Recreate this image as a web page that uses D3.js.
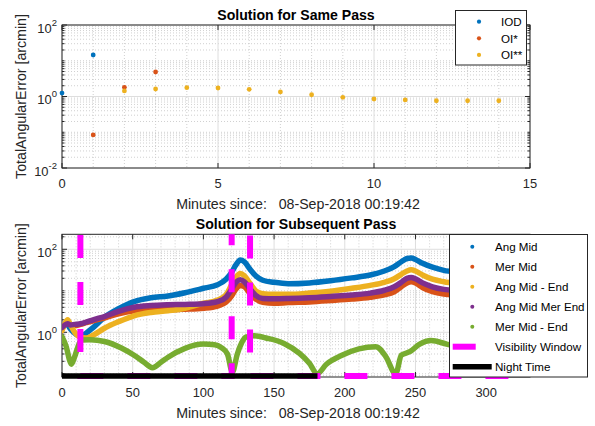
<!DOCTYPE html>
<html>
<head>
<meta charset="utf-8">
<script src="https://cdn.jsdelivr.net/npm/d3@7/dist/d3.min.js"></script>
<style>
  body { margin: 0; background: #fff; }
  svg { font-family: "Liberation Sans", Arial, sans-serif; }
</style>
</head>
<body>
<script>
// ---- top panel: solution for same pass ----
const iodMinutes = [0, 1];
const iodError = [1.25, 14.5];
const oi1Minutes = [1, 2, 3];
const oi1Error = [0.084, 1.81, 4.85];
const oi2Minutes = [2, 3, 4, 5, 6, 7, 8, 9, 10, 11, 12, 13, 14];
const oi2Error = [1.43, 1.62, 1.76, 1.73, 1.59, 1.34, 1.12, 0.95, 0.85, 0.8, 0.76, 0.76, 0.76];
const topXTicks = [0, 5, 10, 15];
const topYTicks = [0.01, 1, 100];

// ---- bottom panel: solution for subsequent pass ----
const minutes = [0, 2, 4, 6, 9, 13, 17, 22, 30, 40, 51, 63, 75, 87, 100, 110, 116, 120, 123, 126,
  129, 133, 137, 142, 150, 160, 175, 190, 205, 218, 228, 235, 240, 244, 247, 250, 255, 262, 270, 280,
  295, 315, 331];
const angMid = [1.4, 1.55, 1.5, 1.2, 0.95, 0.8, 0.95, 1.3, 2.3, 3.7, 5.5, 6.8, 7.5, 9.0, 11.5, 14, 19, 28, 42, 55,
  50, 33, 23, 18, 16, 14.8, 15.5, 17.5, 20.5, 24, 30, 38, 50, 60, 62, 57, 46, 37, 31, 28,
  26, 24.5, 23.5];
const merMid = [1.2, 1.55, 1.8, 1.5, 1.45, 1.55, 1.7, 1.9, 2.2, 2.8, 3.3, 3.5, 3.5, 3.6, 3.8, 4.3, 5.3, 7.5, 11, 13.5,
  12.5, 8.5, 6.3, 5.3, 5.0, 5.2, 5.4, 5.8, 6.3, 7.0, 8.0, 9.5, 12.5, 15.5, 16.5, 15.5, 12, 9.5, 8.3, 7.8,
  7.3, 7, 6.8];
const angMidEnd = [1.1, 1.6, 2.0, 1.5, 1.0, 0.76, 0.73, 0.85, 1.25, 1.8, 2.5, 3.0, 3.3, 3.8, 5.0, 6.0, 8, 14, 21, 26,
  23, 15, 10, 8.5, 8.2, 8.2, 8.8, 9.8, 11.5, 13.5, 16, 19.5, 25, 30, 32, 30, 24, 19, 16.5, 15,
  14, 13.5, 13];
const angMidMerEnd = [1.3, 1.5, 1.6, 1.5, 1.55, 1.6, 1.75, 2.0, 2.4, 3.2, 4.0, 4.4, 4.6, 4.7, 4.9, 5.5, 7, 11, 16, 18.5,
  16.5, 11, 7.8, 6.5, 6.4, 6.5, 6.8, 7.3, 7.9, 8.8, 10.3, 12.5, 16, 20, 21, 19.5, 15.5, 12.5, 10.8, 10,
  9.4, 9, 8.7];
const greenMinutes = [0, 3, 5.4, 6.6, 9, 11.3, 13.7, 20, 30, 42, 51, 58, 64, 70, 75, 87, 100, 108, 113, 117,
  120.5, 124, 127, 130, 136, 145, 157, 168, 175, 180.5, 187, 198, 210, 222, 229, 236, 240, 246, 253, 261,
  272, 285, 300, 315, 331];
const merMidEnd = [0.78, 0.45, 0.21, 0.17, 0.26, 0.45, 0.65, 0.66, 0.6, 0.42, 0.28, 0.19, 0.14, 0.19, 0.25, 0.41, 0.52, 0.5, 0.42, 0.3,
  0.11, 0.3, 0.55, 0.76, 0.82, 0.72, 0.54, 0.31, 0.18, 0.1, 0.17, 0.28, 0.4, 0.45, 0.26, 0.1, 0.28, 0.34, 0.52, 0.63,
  0.52, 0.4, 0.3, 0.25, 0.2];
const visMinutes = [0, 13, 13, 120, 120, 133, 133, 331];
const visLevel = [1340, 1340, 0.0885, 0.0885, 1340, 1340, 0.0885, 0.0885];
const nightMinutes = [0, 180.7];
const nightLevel = [0.0885, 0.0885];
const bottomXTicks = [0, 50, 100, 150, 200, 250, 300];
const bottomYTicks = [1, 100];

const seriesNames = ["Ang Mid", "Mer Mid", "Ang Mid - End", "Ang Mid Mer End", "Mer Mid - End"];
const topNames = ["IOD", "OI*", "OI**"];
const colors = ["#0072BD", "#D95319", "#EDB120", "#7E2F8E", "#77AC30"];
const axisColor = "#262626";
const xLabelText = "Minutes since:   08-Sep-2018 00:19:42";
const yLabelText = "TotalAngularError [arcmin]";

const w = 595, h = 426;
const svg = d3.select("body").append("svg").attr("width", w).attr("height", h);

const x1 = d3.scaleLinear().domain([0, 15]).range([62, 530]);
const y1 = d3.scaleLog().domain([0.01, 100]).range([168, 25]);
const x2 = d3.scaleLinear().domain([0, 331]).range([62, 530]);
const y2 = d3.scaleLog().domain([0.0837, 229.8]).range([377, 234.3]);

function logMinor(y) {
  let [lo, hi] = y.domain();
  let out = [];
  for (let e = Math.floor(Math.log10(lo)); e <= Math.ceil(Math.log10(hi)); e++) {
    for (let k = 1; k < 10; k++) {
      let v = k * Math.pow(10, e);
      if (v >= lo && v <= hi) out.push(v);
    }
  }
  return out;
}

function frame(x, y, xTicks, xMinorStep, yTicks, title) {
  let g = svg.append("g");
  let [l, r] = x.range();
  let [b, t] = y.range();
  let yMinor = logMinor(y).filter(v => !yTicks.some(m => Math.abs(m - v) / v < 1e-6));
  let xMinor = d3.range(x.domain()[0], x.domain()[1] + 1e-9, xMinorStep)
    .filter(v => !xTicks.includes(v));

  // minor grid (dotted)
  g.selectAll(".ymin").data(yMinor).enter().append("line")
    .attr("x1", l).attr("x2", r).attr("y1", d => y(d)).attr("y2", d => y(d))
    .attr("stroke", "#c4c4c4").attr("stroke-width", 0.8).attr("stroke-dasharray", "1,2");
  g.selectAll(".xmin").data(xMinor).enter().append("line")
    .attr("y1", t).attr("y2", b).attr("x1", d => x(d)).attr("x2", d => x(d))
    .attr("stroke", "#c4c4c4").attr("stroke-width", 0.8).attr("stroke-dasharray", "1,2");
  // major grid
  g.selectAll(".ymaj").data(yTicks).enter().append("line")
    .attr("x1", l).attr("x2", r).attr("y1", d => y(d)).attr("y2", d => y(d))
    .attr("stroke", "#dedede").attr("stroke-width", 1);
  g.selectAll(".xmaj").data(xTicks).enter().append("line")
    .attr("y1", t).attr("y2", b).attr("x1", d => x(d)).attr("x2", d => x(d))
    .attr("stroke", "#dedede").attr("stroke-width", 1);

  // box
  g.append("rect").attr("x", l).attr("y", t).attr("width", r - l).attr("height", b - t)
    .attr("fill", "none").attr("stroke", axisColor).attr("stroke-width", 1);

  // ticks
  xTicks.forEach(v => {
    g.append("line").attr("x1", x(v)).attr("x2", x(v)).attr("y1", b).attr("y2", b - 5).attr("stroke", axisColor);
    g.append("line").attr("x1", x(v)).attr("x2", x(v)).attr("y1", t).attr("y2", t + 5).attr("stroke", axisColor);
    g.append("text").attr("x", x(v)).attr("y", b + 20).attr("text-anchor", "middle")
      .attr("font-size", 12.9).attr("fill", axisColor).text(v);
  });
  yMinor.forEach(v => {
    g.append("line").attr("x1", l).attr("x2", l + 2.5).attr("y1", y(v)).attr("y2", y(v)).attr("stroke", axisColor);
    g.append("line").attr("x1", r).attr("x2", r - 2.5).attr("y1", y(v)).attr("y2", y(v)).attr("stroke", axisColor);
  });
  yTicks.forEach(v => {
    g.append("line").attr("x1", l).attr("x2", l + 5).attr("y1", y(v)).attr("y2", y(v)).attr("stroke", axisColor);
    g.append("line").attr("x1", r).attr("x2", r - 5).attr("y1", y(v)).attr("y2", y(v)).attr("stroke", axisColor);
    let lab = g.append("text").attr("x", l - 5).attr("y", y(v) + 7.5).attr("text-anchor", "end")
      .attr("fill", axisColor).attr("font-size", 12.9);
    lab.append("tspan").text("10");
    lab.append("tspan").attr("dy", -7).attr("font-size", 9.5).text(Math.round(Math.log10(v)));
  });

  // labels
  g.append("text").attr("x", (l + r) / 2).attr("y", t - 5.5).attr("text-anchor", "middle")
    .attr("font-size", 14.1).attr("font-weight", "bold").attr("fill", "#000").text(title);
  g.append("text").attr("x", (l + r) / 2 + 2).attr("y", b + 41).attr("text-anchor", "middle")
    .attr("font-size", 14.2).attr("fill", axisColor).style("white-space", "pre").text(xLabelText);
  g.append("text").attr("transform", "translate(25.5," + ((t + b) / 2) + ") rotate(-90)")
    .attr("text-anchor", "middle").attr("font-size", 14.2).attr("fill", axisColor).text(yLabelText);
}

// ---------- top panel ----------
frame(x1, y1, topXTicks, 1, topYTicks, "Solution for Same Pass");

const topSets = [[iodMinutes, iodError], [oi1Minutes, oi1Error], [oi2Minutes, oi2Error]];
topSets.forEach((s, i) => {
  svg.append("g").selectAll("circle").data(s[0]).enter().append("circle")
    .attr("cx", d => x1(d)).attr("cy", (d, j) => y1(s[1][j])).attr("r", 2.4)
    .attr("fill", colors[i]);
});

// top legend
const leg1 = svg.append("g");
leg1.append("rect").attr("x", 455.5).attr("y", 10.5).attr("width", 71).attr("height", 54.5)
  .attr("fill", "#fff").attr("stroke", axisColor).attr("stroke-width", 1);
topNames.forEach((n, i) => {
  let yy = 21.7 + i * 16.6;
  leg1.append("circle").attr("cx", 479).attr("cy", yy).attr("r", 2.1).attr("fill", colors[i]);
  leg1.append("text").attr("x", 501).attr("y", yy + 4.2).attr("font-size", 11.6).attr("fill", "#000").text(n);
});

// ---------- bottom panel ----------
frame(x2, y2, bottomXTicks, 10, bottomYTicks, "Solution for Subsequent Pass");

svg.append("defs").append("clipPath").attr("id", "clip2").append("rect")
  .attr("x", 62).attr("y", 234.3).attr("width", 468).attr("height", 150);
const plot2 = svg.append("g").attr("clip-path", "url(#clip2)");

const curve = d3.line().curve(d3.curveMonotoneX);
const bottomSets = [[minutes, angMid], [minutes, merMid], [minutes, angMidEnd], [minutes, angMidMerEnd],
  [greenMinutes, merMidEnd]];
bottomSets.forEach((s, i) => {
  plot2.append("path")
    .attr("d", curve(s[0].map((m, j) => [x2(m), y2(s[1][j])])))
    .attr("fill", "none").attr("stroke", colors[i]).attr("stroke-width", 5.5)
    .attr("stroke-linejoin", "round").attr("stroke-linecap", "round");
});

// visibility window: one dashed path, pattern phase set so a dash starts at the first drop
const visPts = visMinutes.map((m, j) => [x2(m), y2(visLevel[j])]);
const firstLeg = Math.abs(visPts[1][0] - visPts[0][0]) + Math.abs(visPts[2][1] - visPts[1][1]);
const dashPeriod = 47;
plot2.append("path")
  .attr("d", d3.line()(visPts))
  .attr("fill", "none").attr("stroke", "#FF00FF").attr("stroke-width", 6)
  .attr("stroke-dasharray", "23,24")
  .attr("stroke-dashoffset", dashPeriod - (firstLeg % dashPeriod));

plot2.append("path")
  .attr("d", d3.line()(nightMinutes.map((m, j) => [x2(m), y2(nightLevel[j])])))
  .attr("fill", "none").attr("stroke", "#000").attr("stroke-width", 5.5);

// bottom legend
const leg2 = svg.append("g");
leg2.append("rect").attr("x", 449.5).attr("y", 234.5).attr("width", 138).attr("height", 142.5)
  .attr("fill", "#fff").attr("stroke", axisColor).attr("stroke-width", 1);
seriesNames.forEach((n, i) => {
  let yy = 246.7 + i * 20;
  leg2.append("circle").attr("cx", 472.3).attr("cy", yy).attr("r", 2).attr("fill", colors[i]);
  leg2.append("text").attr("x", 495).attr("y", yy + 4.2).attr("font-size", 11.6).attr("fill", "#000").text(n);
});
leg2.append("line").attr("x1", 452.7).attr("x2", 491.7).attr("y1", 346.7).attr("y2", 346.7)
  .attr("stroke", "#FF00FF").attr("stroke-width", 6).attr("stroke-dasharray", "23,24");
leg2.append("text").attr("x", 495).attr("y", 350.9).attr("font-size", 11.6).attr("fill", "#000").text("Visibility Window");
leg2.append("line").attr("x1", 452.7).attr("x2", 491.7).attr("y1", 366.7).attr("y2", 366.7)
  .attr("stroke", "#000").attr("stroke-width", 5.5);
leg2.append("text").attr("x", 495).attr("y", 370.9).attr("font-size", 11.6).attr("fill", "#000").text("Night Time");
</script>
</body>
</html>
